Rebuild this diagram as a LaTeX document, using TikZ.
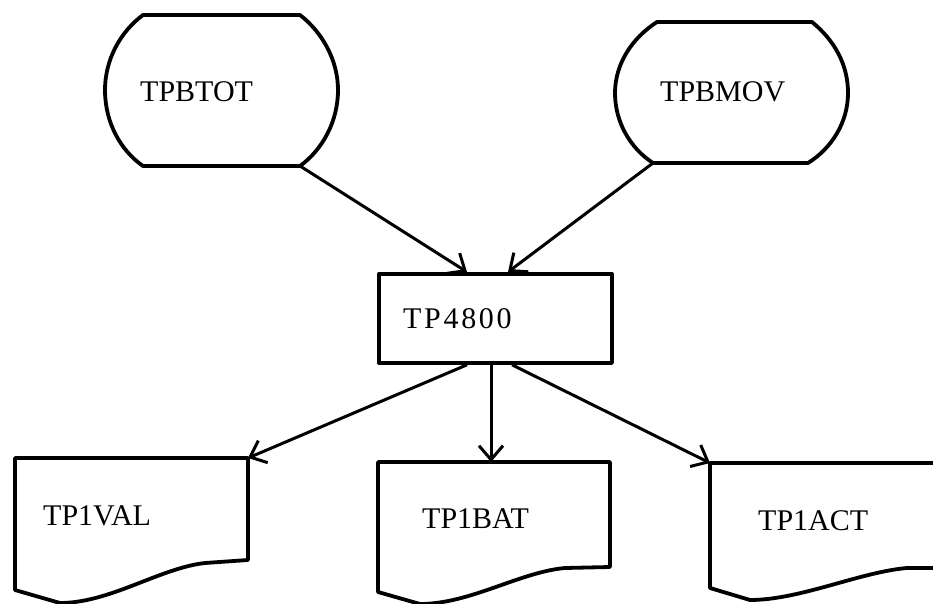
\documentclass[tikz,border=0pt]{standalone}
\usepackage{fontspec}
\setmainfont{Liberation Serif}
\usetikzlibrary{arrows.meta}
\begin{document}
\begin{tikzpicture}[x=1pt,y=-1pt,
  outline/.style={line width=3.8pt, line join=round},
  flow/.style={line width=3pt, -{Straight Barb[length=14pt,width=24pt]}},
  label/.style={anchor=base west, inner sep=0pt, font=\fontsize{30}{36}\selectfont}]
\clip (0,0) rectangle (933,604);
\fill[white] (0,0) rectangle (933,604);

% input files (terminal shapes)
\coordinate (totout) at (300,166);
\draw[outline] (143,15) -- (300,15)
  .. controls (322,32) and (338,60) .. (338,90)
  .. controls (338,122) and (322,150) .. (totout) -- (143,166)
  .. controls (120,150) and (105,122) .. (105,90)
  .. controls (105,60) and (120,32) .. cycle;
\node[label] (tot) at (140,102) {TPBTOT};

\coordinate (movout) at (653,163);
\draw[outline] (657,22) -- (812,22)
  .. controls (834,40) and (848,64) .. (848,93)
  .. controls (848,122) and (832,148) .. (808,163) -- (movout)
  .. controls (630,148) and (615,122) .. (615,93)
  .. controls (615,64) and (632,38) .. cycle;
\node[label] (mov) at (660,102) {TPBMOV};

% program box
\node[draw, outline, anchor=north west, minimum width=233pt, minimum height=89pt,
  inner sep=0pt] (proc) at (377,272) {};
\node[label] (proclabel) at (403,328) {\addfontfeature{LetterSpace=9}TP4800};

% output documents
\coordinate (valin) at (248,458);
\draw[outline] (15,458) -- (valin) -- (248,560) -- (205,563)
  .. controls (160,568) and (110,603) .. (60,603) -- (15,590) -- cycle;
\node[label] (val) at (43,525) {TP1VAL};

\coordinate (batin) at (491,462);
\draw[outline] (378,462) -- (610,462) -- (610,567) -- (565,568)
  .. controls (520,572) and (470,604) .. (420,604) -- (378,592) -- cycle;
\node[label] (bat) at (422,528) {TP1BAT};

\coordinate (actin) at (710,463);
\draw[outline] (actin) -- (950,463) -- (950,568) -- (907,568)
  .. controls (860,572) and (800,600) .. (750,600) -- (710,588) -- cycle;
\node[label] (act) at (758,530) {TP1ACT};

% data flow
\draw[flow] (totout) -- ([xshift=90pt]proc.north west);
\draw[flow] (movout) -- ([xshift=131pt]proc.north west);
\draw[flow] ([xshift=90pt]proc.south west) -- (valin);
\draw[flow] ([xshift=114pt]proc.south west) -- (batin);
\draw[flow] ([xshift=135pt]proc.south west) -- (actin);
\end{tikzpicture}
\end{document}
